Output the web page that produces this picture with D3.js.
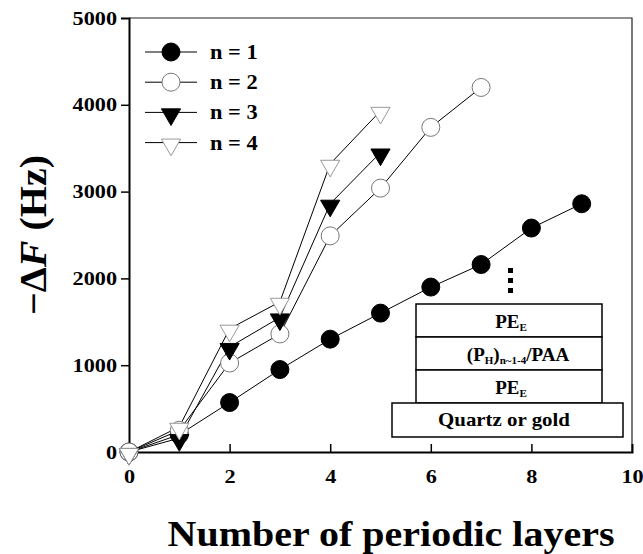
<!DOCTYPE html>
<html>
<head>
<meta charset="utf-8">
<script src="https://cdn.jsdelivr.net/npm/d3@7"></script>
<style>
body{margin:0;background:#fff;}
text{font-family:"Liberation Serif","Times New Roman",serif;font-weight:bold;}
</style>
</head>
<body>
<script>
// data
const layers1 = [0,1,2,3,4,5,6,7,8,9];
const n1 = [0,200,570,950,1300,1600,1900,2160,2580,2860];
const layers2 = [0,1,2,3,4,5,6,7];
const n2 = [0,250,1025,1360,2490,3040,3740,4200];
const layers3 = [0,1,2,3,4,5];
const n3 = [0,160,1210,1550,2860,3450];
const layers4 = [0,1,2,3,4,5];
const n4 = [0,290,1420,1730,3320,3930];
const seriesNames = ["n = 1","n = 2","n = 3","n = 4"];
const xTicks = [0,2,4,6,8,10];
const yTicks = [0,1000,2000,3000,4000,5000];
const stackLabels = ["PE_E","(P_H)_n~1-4/PAA","PE_E"];

const width = 643, height = 554;
const margin = {top:18,right:11,bottom:102,left:129};
const innerW = width - margin.left - margin.right;
const innerH = height - margin.top - margin.bottom;

const svg = d3.select("body").append("svg")
	.attr("width",width)
	.attr("height",height);

const x = d3.scaleLinear().domain([0,10]).range([0,innerW]);
const y = d3.scaleLinear().domain([0,5000]).range([innerH,0]);

//the scanned type is a bit wider than Liberation Serif
function stretch(sel,f){
	sel.each(function(){
		const w = this.getComputedTextLength();
		d3.select(this).attr("textLength",w*f).attr("lengthAdjust","spacingAndGlyphs");
	});
}

const g = svg.append("g")
	.attr("transform","translate("+margin.left+","+margin.top+")");

//frame top and right
g.append("path")
	.attr("d","M0,0H"+innerW+"V"+innerH)
	.attr("fill","none").attr("stroke","#222").attr("stroke-width",1.2);

//x axis, ticks inward
const xAxis = g.append("g")
	.attr("transform","translate(0,"+innerH+")")
	.call(d3.axisBottom(x).tickValues(xTicks).tickSize(-8).tickPadding(18).tickFormat(d3.format("d")));
//y axis, ticks outward
const yAxis = g.append("g")
	.call(d3.axisLeft(y).tickValues(yTicks).tickSize(8).tickPadding(4).tickFormat(d3.format("d")));
[xAxis,yAxis].forEach(a=>{
	a.attr("font-family","Liberation Serif").attr("font-weight","bold");
	a.select(".domain").attr("stroke","#000").attr("stroke-width",2);
	a.selectAll(".tick line").attr("stroke","#000").attr("stroke-width",1.5);
	a.selectAll(".tick text").attr("font-size",19).attr("fill","#000");
	stretch(a.selectAll(".tick text"),1.17);
});
xAxis.selectAll(".tick").filter(d=>d===0||d===10).select("line").remove();
yAxis.selectAll(".tick").filter(d=>d===5000).select("line").remove();

//series
const triDown = d3.symbol().type(d3.symbolTriangle).size(160);
const series = [
	{xs:layers1,ys:n1,shape:"circle",fill:"#000",stroke:"#000"},
	{xs:layers2,ys:n2,shape:"circle",fill:"#fff",stroke:"#777"},
	{xs:layers3,ys:n3,shape:"tri",fill:"#000",stroke:"#000"},
	{xs:layers4,ys:n4,shape:"tri",fill:"#fff",stroke:"#999"}
];
const line = d3.line().x(d=>x(d[0])).y(d=>y(d[1]));

function drawMarker(sel,s){
	if(s.shape==="circle"){
		sel.append("circle").attr("r",9)
			.attr("fill",s.fill).attr("stroke",s.stroke).attr("stroke-width",1);
	} else {
		sel.append("path").attr("d",triDown()).attr("transform","rotate(180) translate(0,-2)")
			.attr("fill",s.fill).attr("stroke",s.stroke).attr("stroke-width",1);
	}
}

series.forEach(s=>{
	const pts = s.xs.map((d,i)=>[d,s.ys[i]]);
	g.append("path").datum(pts).attr("d",line)
		.attr("fill","none").attr("stroke","#000").attr("stroke-width",1);
});
series.forEach(s=>{
	const pts = s.xs.map((d,i)=>[d,s.ys[i]]);
	g.selectAll(null).data(pts).enter().append("g")
		.attr("transform",d=>"translate("+x(d[0])+","+y(d[1])+")")
		.each(function(){drawMarker(d3.select(this),s);});
});

//legend
const legend = svg.append("g").attr("transform","translate(145,52)");
series.forEach((s,i)=>{
	const row = legend.append("g").attr("transform","translate(0,"+(i*30.2)+")");
	row.append("line").attr("x1",0).attr("x2",52).attr("stroke","#000").attr("stroke-width",1);
	const m = row.append("g").attr("transform","translate(26,0)");
	drawMarker(m,s);
	const t = row.append("text").attr("x",65).attr("y",7).attr("font-size",20).text(seriesNames[i]);
	stretch(t,1.12);
});

//inset layer stack
const inset = svg.append("g");
const boxL = 416, boxR = 602, rowTops = [304,337,370,403];
stackLabels.forEach((lab,i)=>{
	inset.append("rect").attr("x",boxL).attr("y",rowTops[i])
		.attr("width",boxR-boxL).attr("height",rowTops[i+1]-rowTops[i])
		.attr("fill","#fff").attr("stroke","#000").attr("stroke-width",1.5);
	const t = inset.append("text").attr("x",(boxL+boxR)/2).attr("y",rowTops[i]+24)
		.attr("text-anchor","middle").attr("font-size",19);
	if(lab==="PE_E"){
		t.attr("x",(boxL+boxR)/2+2);
		t.append("tspan").text("PE");
		t.append("tspan").attr("font-size",11).attr("dy",3).text("E");
	} else {
		t.attr("x",(boxL+boxR)/2+9);
		t.append("tspan").text("(P");
		t.append("tspan").attr("font-size",11).attr("dy",3).text("H");
		t.append("tspan").attr("dy",-3).text(")");
		t.append("tspan").attr("font-size",11).attr("dy",3).text("n~1-4");
		t.append("tspan").attr("dy",-3).text("/PAA");
	}
});
inset.append("rect").attr("x",392).attr("y",403).attr("width",231).attr("height",34)
	.attr("fill","#fff").attr("stroke","#000").attr("stroke-width",1.5);
const qt = inset.append("text").attr("x",504).attr("y",426).attr("text-anchor","middle")
	.attr("font-size",19).text("Quartz or gold");
stretch(qt,1.1);
[270,280,290].forEach(cy=>{
	inset.append("rect").attr("x",508).attr("y",cy-2).attr("width",5).attr("height",5).attr("fill","#000");
});

//axis titles
const xt = svg.append("text").attr("x",391).attr("y",546).attr("text-anchor","middle")
	.attr("font-size",35).text("Number of periodic layers");
xt.attr("textLength",447).attr("lengthAdjust","spacingAndGlyphs");
const yl = svg.append("text")
	.attr("transform","translate(46,235) rotate(-90)")
	.attr("text-anchor","middle").attr("font-size",37);
yl.append("tspan").text("\u2212\u0394");
yl.append("tspan").attr("font-style","italic").text("F");
yl.append("tspan").text(" (Hz)");
yl.attr("textLength",160).attr("lengthAdjust","spacingAndGlyphs");
</script>
</body>
</html>
